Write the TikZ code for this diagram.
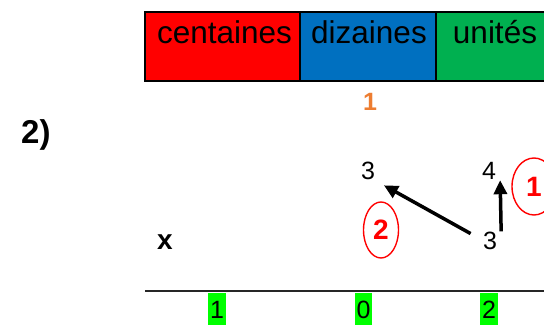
\documentclass[tikz,border=0pt]{standalone}
\usepackage{fontspec}
\setmainfont{Liberation Sans}
\usetikzlibrary{arrows.meta, calc, positioning, shapes.geometric}
\definecolor{colC}{RGB}{255,0,0}
\definecolor{colD}{RGB}{0,112,192}
\definecolor{colU}{RGB}{0,176,80}
\definecolor{carry}{RGB}{237,125,49}
\definecolor{hilite}{RGB}{0,255,0}

\begin{document}
\begin{tikzpicture}[x=1pt,y=-1pt,
    column/.style={draw=black,line width=1.5pt,minimum height=69pt,inner sep=0pt},
    header/.style={anchor=base,inner sep=0pt,font=\fontsize{31.5}{31.5}\selectfont},
    digit/.style={anchor=base,inner sep=0pt,font=\fontsize{25}{25}\selectfont},
    ring/.style={draw=red,line width=1.4pt,ellipse,inner sep=0pt,minimum width=35pt,minimum height=56pt,
                 text=red,font=\fontsize{28}{28}\selectfont\bfseries},
    result/.style={anchor=north,fill=hilite,inner xsep=2pt,inner ysep=7pt,text height=18pt,text depth=0pt,
                   font=\fontsize{25}{25}\selectfont},
    move/.style={-{Triangle[length=14pt,width=13pt]},line width=3.5pt}]
\useasboundingbox (0,0) rectangle (544,326);
\clip (0,0) rectangle (544,326);

    % place-value header
    \node[column,fill=colC,minimum width=155pt] (cC) at (222.5,46.5) {};
    \node[column,fill=colD,minimum width=136pt] (cD) at (368,46.5) {};
    \node[column,fill=colU,minimum width=144pt] (cU) at (508,46.5) {};
    \node[header] (tC) at ($(cC.north)+(2,32)$) {centaines};
    \node[header] (tD) at ($(cD.north)+(1,32)$) {dizaines};
    \node[header] (tU) at ($(cU.north)+(-13,32)$) {unités};

    % carry and labels
    \node[digit,text=carry,font=\fontsize{25}{25}\selectfont\bfseries] (r1) at (370,111) {1};
    \node[anchor=base west,inner sep=0pt,font=\fontsize{33}{33}\selectfont\bfseries] (q2) at (21,144) {2)};
    \node[digit,font=\fontsize{28}{28}\selectfont\bfseries] (mx) at (165,249) {x};

    % digits
    \node[digit] (d3) at (368,180) {3};
    \node[digit] (u4) at (489,180) {4};
    \node[digit] (u3) at (490,249) {3};
    \node[ring] (s2) at (381,230) {2};
    \node[ring,minimum width=44pt,minimum height=57pt] (s1) at (534,186.5) {1};

    \draw[move,shorten <=14pt,shorten >=10pt] (u3.west) -- (d3.south east);
    \draw[move] ([xshift=4pt]u3.north east) -- ([xshift=4pt]u4.south east);

    % result line
    \draw[line width=2pt,black!85] (145,291) -- (560,291);
    \node[result] (e1) at (217,293) {1};
    \node[result] (e2) at (363.5,293) {0};
    \node[result] (e3) at (489,293) {2};
\end{tikzpicture}
\end{document}
